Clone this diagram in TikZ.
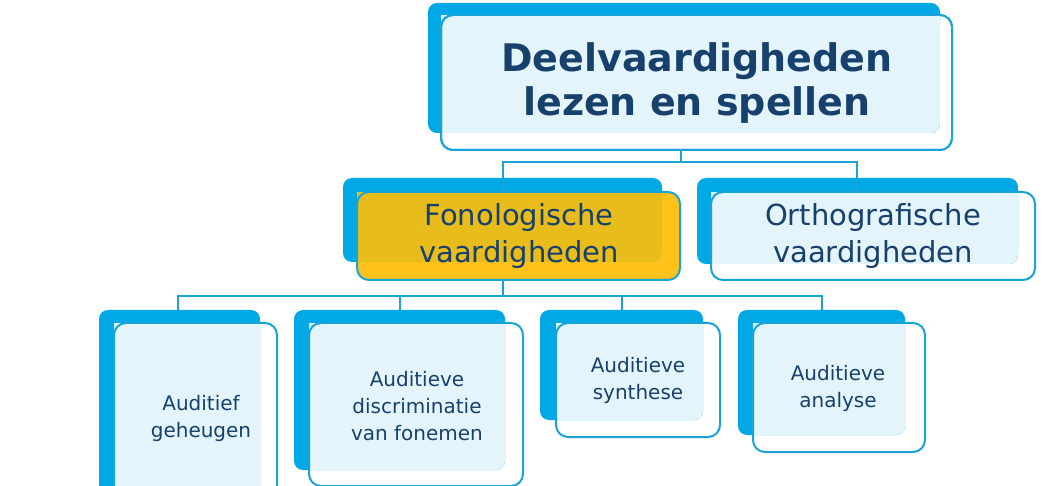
\documentclass[tikz,border=0pt]{standalone}
\usepackage{fontspec}
\setmainfont{DejaVu Sans}
\definecolor{bback}{HTML}{00A9E6}
\definecolor{bline}{HTML}{1AA3D8}
\definecolor{lfill}{HTML}{E3F4FA}
\definecolor{tcol}{HTML}{17406D}
\definecolor{yfill}{HTML}{FFC21A}
\definecolor{yover}{HTML}{E8BC1A}
\tikzset{conn/.style={draw=bline,line width=2pt}}
\newcommand{\dbox}[9]{% name, backx1,y1,x2,y2, frontx1,y1,x2,y2
  \fill[bback,rounded corners=9pt] (#2,#3) rectangle (#4,#5);
  \begin{scope}
    \clip[rounded corners=9pt] (#2,#3) rectangle (#4,#5);
    \fill[lfill] (#6,#7) rectangle (#8,#9);
  \end{scope}
  \draw[bline,line width=2pt,rounded corners=12pt] (#6,#7) rectangle (#8,#9);
  \coordinate (#1) at ($(#6,#7)!0.5!(#8,#9)$);
}
\usetikzlibrary{calc}
\begin{document}
\begin{tikzpicture}[x=1pt,y=-1pt]
\useasboundingbox (0,0) rectangle (1055,486);
\clip (0,0) rectangle (1055,486);
% top
\dbox{top}{428}{3}{940}{133}{441}{15}{952}{150}
\fill[white,rounded corners=12pt] (940,16) rectangle (951,149);
\draw[bline,line width=2pt,rounded corners=12pt] (441,15) rectangle (952,150);
% fonologische
\fill[bback,rounded corners=9pt] (343,178) rectangle (662,262);
\fill[yfill,rounded corners=12pt] (357,192) rectangle (680,280);
\begin{scope}\clip[rounded corners=9pt] (343,178) rectangle (662,262);
\fill[yover] (357,192) rectangle (680,280);\end{scope}
\draw[bline,line width=2pt,rounded corners=12pt] (357,192) rectangle (680,280);
\coordinate (fon) at (518.5,236);
% ortho
\dbox{ort}{697}{178}{1018}{264}{711}{192}{1035}{280}
% bottom
\dbox{b1}{99}{310}{260}{520}{114}{323}{277}{530}
\dbox{b2}{294}{310}{505}{470}{309}{323}{523}{486}
\dbox{b3}{540}{310}{703}{420}{556}{323}{720}{437}
\dbox{b4}{738}{310}{905}{435}{753}{323}{925}{452}
% texts
\node[text=tcol,font=\bfseries\fontsize{38}{44}\selectfont,align=center] (ttop) at (697,83) {Deelvaardigheden\\lezen en spellen};
\node[text=tcol,font=\fontsize{29}{37}\selectfont,align=center] (tfon) at (519,236) {Fonologische\\vaardigheden};
\node[text=tcol,font=\fontsize{29}{37}\selectfont,align=center] (tort) at (873,236) {Orthografische\\vaardigheden};
\node[text=tcol,font=\fontsize{20}{27}\selectfont,align=center] (t1) at (201,418) {Auditief\\geheugen};
\node[text=tcol,font=\fontsize{20}{27}\selectfont,align=center] (t2) at (417,406) {Auditieve\\discriminatie\\van fonemen};
\node[text=tcol,font=\fontsize{20}{27}\selectfont,align=center] (t3) at (638,380) {Auditieve\\synthese};
\node[text=tcol,font=\fontsize{20}{27}\selectfont,align=center] (t4) at (838,388) {Auditieve\\analyse};
% connectors
\coordinate (tb) at (681,150);
\coordinate (fb) at (503,280);
\draw[conn] (tb) -- (681,162) -- (503,162) -- (503,192);
\draw[conn] (681,162) -- (857,162) -- (857,192);
\draw[conn] (fb) -- (503,296) -- (178,296) -- (178,310);
\draw[conn] (503,296) -- (822,296) -- (822,310);
\draw[conn] (400,296) -- (400,310);
\draw[conn] (622,296) -- (622,310);
\end{tikzpicture}
\end{document}
